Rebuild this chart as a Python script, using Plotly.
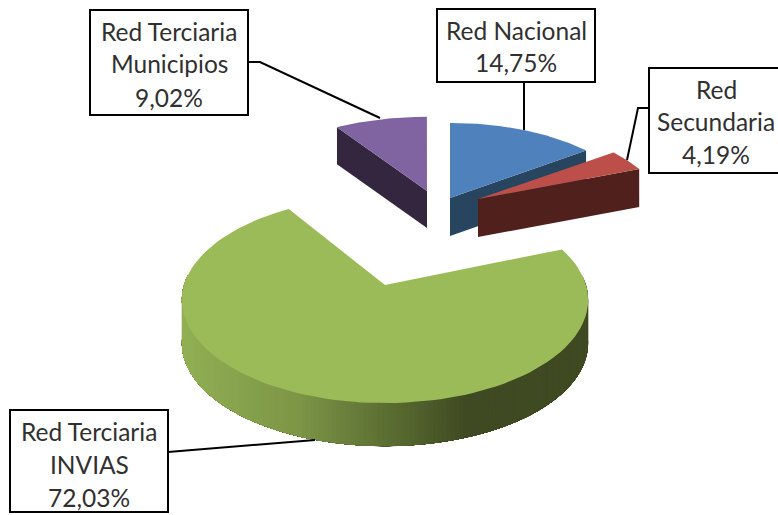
import numpy as np
import plotly.graph_objects as go

# Slice values, clockwise from 12 o'clock
names = ["Red Nacional", "Red Secundaria", "Red Terciaria INVIAS", "Red Terciaria Municipios"]
shares = [14.75, 4.19, 72.03, 9.02]
box_lines = [
    ["Red Nacional", "14,75%"],
    ["Red", "Secundaria", "4,19%"],
    ["Red Terciaria", "INVIAS", "72,03%"],
    ["Red Terciaria", "Municipios", "9,02%"],
]

# Look of each slice: apex in pixels, radii, wall height
WIDTH, HEIGHT = 778, 515
PERSPECTIVE = 0.145
looks = [
    dict(ax=450, ay=198, rx=185, ry=86, h=38, top="#4f81bd", side="#27455f"),
    dict(ax=478, ay=199, rx=183, ry=85, h=38, top="#bd4f4a", side="#50201c"),
    dict(ax=385, ay=285, rx=201, ry=101, h=43, top="#9bbb59", side="#3f4a22"),
    dict(ax=427, ay=191, rx=188, ry=85, h=37, top="#8064a2", side="#35263f"),
]
boxes = [(437, 9, 595, 82), (649, 68, 790, 173), (10, 410, 168, 512), (90, 10, 248, 115)]
box_text_y = [(30, 62), (89, 121, 154), (431, 464, 497), (31, 63, 97)]
box_text_x = [516, 716, 89, 169]
leaders = [
    ([524, 524], [82, 130]),
    ([649, 638, 627], [108, 108, 160]),
    ([168, 315], [452, 440]),
    ([248, 260, 380], [62, 62, 118]),
]
# side shading of the big slice by screen x
wall_stops = [(183, (146, 176, 84)), (300, (125, 150, 71)), (400, (88, 106, 48)),
              (470, (63, 74, 34)), (595, (63, 74, 34))]


def project(look, theta):
    s, c = np.sin(theta), -np.cos(theta)
    d = 1 - PERSPECTIVE * c
    return look["ax"] + look["rx"] * s / d, look["ay"] + look["ry"] * c / d


def polygon(fig, xs, ys, color):
    fig.add_trace(go.Scatter(x=xs, y=ys, mode="lines", fill="toself", fillcolor=color,
                             line=dict(color=color, width=0), hoverinfo="skip"))


def wall_color(x):
    xp = [p[0] for p in wall_stops]
    return "rgb(%d,%d,%d)" % tuple(np.interp(x, xp, [p[1][i] for p in wall_stops]) for i in range(3))


# slice angles from the shares
edges = np.radians(np.concatenate([[0], np.cumsum(shares)]) / 100 * 360)

fig = go.Figure()

for i in [3, 0, 1, 2]:
    look = looks[i]
    start, end = edges[i], edges[i + 1]
    arc = np.linspace(start, end, 120)
    ax_, ay_ = look["ax"], look["ay"]
    ox, oy = project(look, arc)

    if i == 2:
        # outer wall, painted right to left; each band runs on under the next one so no seams show
        steps = np.linspace(np.pi * 0.47, np.pi * 1.53, 170)
        for a in steps[:-1]:
            band = np.linspace(a, np.pi * 1.53, 40)
            xa, ya = project(look, band)
            polygon(fig, [*xa, *xa[::-1]], [*ya, *(ya[::-1] + look["h"])], wall_color(xa[0]))
    else:
        # radial wall facing the viewer
        wall = end if i in (0, 1) else start
        wx, wy = project(look, wall)
        polygon(fig, [ax_, wx, wx, ax_], [ay_, wy, wy + look["h"], ay_ + look["h"]], look["side"])

    polygon(fig, [ax_, *ox, ax_], [ay_, *oy, ay_], look["top"])

for xs, ys in leaders:
    fig.add_trace(go.Scatter(x=xs, y=ys, mode="lines", line=dict(color="black", width=2),
                             hoverinfo="skip"))

for (x0, y0, x1, y1), lines, line_ys, text_x in zip(boxes, box_lines, box_text_y, box_text_x):
    fig.add_shape(type="rect", x0=x0, y0=y0, x1=x1, y1=y1, fillcolor="white",
                  line=dict(color="black", width=2), layer="above")
    for text, y in zip(lines, line_ys):
        fig.add_annotation(x=text_x, y=y, text=text, showarrow=False,
                           font=dict(family="Lato", size=24.5, color="#303030"),
                           xanchor="center", yanchor="middle")

fig.update_layout(
    width=WIDTH, height=HEIGHT, margin=dict(l=0, r=0, t=0, b=0),
    paper_bgcolor="white", plot_bgcolor="white", showlegend=False,
    xaxis=dict(range=[0, WIDTH], visible=False, fixedrange=True),
    yaxis=dict(range=[HEIGHT, 0], visible=False, fixedrange=True),
)

fig.write_html("out.html", config={"displayModeBar": False},
               post_script="document.body.style.margin='0';")
